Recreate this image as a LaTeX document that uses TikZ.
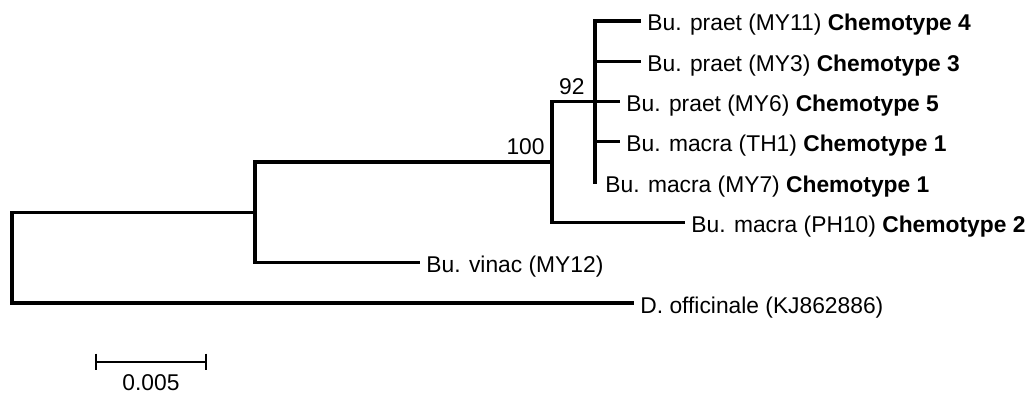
\documentclass[tikz,border=0pt]{standalone}
\usepackage{fontspec}
\setmainfont{Liberation Sans}
\begin{document}
\begin{tikzpicture}[x=0.5pt,y=-0.5pt,
  br/.style={line width=1.6pt,line cap=rect},
  sb/.style={line width=1.1pt},
  lab/.style={anchor=base west,inner sep=0pt,font=\fontsize{11.4}{13}\selectfont,xshift=4pt,yshift=-5pt},
  bsv/.style={anchor=base east,inner sep=0pt,font=\fontsize{11.4}{13}\selectfont}]
\useasboundingbox (0,0) rectangle (1029,394);
% internal nodes
\coordinate (root) at (12,257.8);
\coordinate (A) at (255,212.4);
\coordinate (B) at (552,162);
\coordinate (C) at (595,101.6);
% leaf tips
\coordinate (t1) at (639,21);
\coordinate (t2) at (639,61.3);
\coordinate (t3) at (618,101.6);
\coordinate (t4) at (618,141.9);
\coordinate (t5) at (597,182.2);
\coordinate (t6) at (683,222.5);
\coordinate (t7) at (418,262.8);
\coordinate (t8) at (632,303.1);
% branches
\draw[br] (root) |- (A);
\draw[br] (root) |- (t8);
\draw[br] (A) |- (B);
\draw[br] (A) |- (t7);
\draw[br] (B) |- (C);
\draw[br] (B) |- (t6);
\draw[br] (C) |- (t1);
\draw[br] (C) |- (t2);
\draw[br] (C) -- (t3);
\draw[br] (C) |- (t4);
\draw[br] (C) -- (595,182.2);
% labels
\node[lab] (l1) at (t1) {Bu. praet (MY11) \textbf{Chemotype 4}};
\node[lab] (l2) at (t2) {Bu. praet (MY3) \textbf{Chemotype 3}};
\node[lab] (l3) at (t3) {Bu. praet (MY6) \textbf{Chemotype 5}};
\node[lab] (l4) at (t4) {Bu. macra (TH1) \textbf{Chemotype 1}};
\node[lab] (l5) at (t5) {Bu. macra (MY7) \textbf{Chemotype 1}};
\node[lab] (l6) at (t6) {Bu. macra (PH10) \textbf{Chemotype 2}};
\node[lab] (l7) at (t7) {Bu. vinac (MY12)};
\node[lab] (l8) at (t8) {D. officinale (KJ862886)};
% bootstrap values
\node[bsv] (b100) at (545,155) {100};
\node[bsv] (b92) at (585,95) {92};
% scale bar
\coordinate (s1) at (96,362);
\coordinate (s2) at (206,362);
\draw[sb] (s1) -- (s2);
\draw[sb] ([yshift=4.2pt]s1) -- ([yshift=-4.2pt]s1);
\draw[sb] ([yshift=4.2pt]s2) -- ([yshift=-4.2pt]s2);
\node[anchor=base,inner sep=0pt,font=\fontsize{11.4}{13}\selectfont] (sl) at (151,391) {0.005};
\end{tikzpicture}
\end{document}
